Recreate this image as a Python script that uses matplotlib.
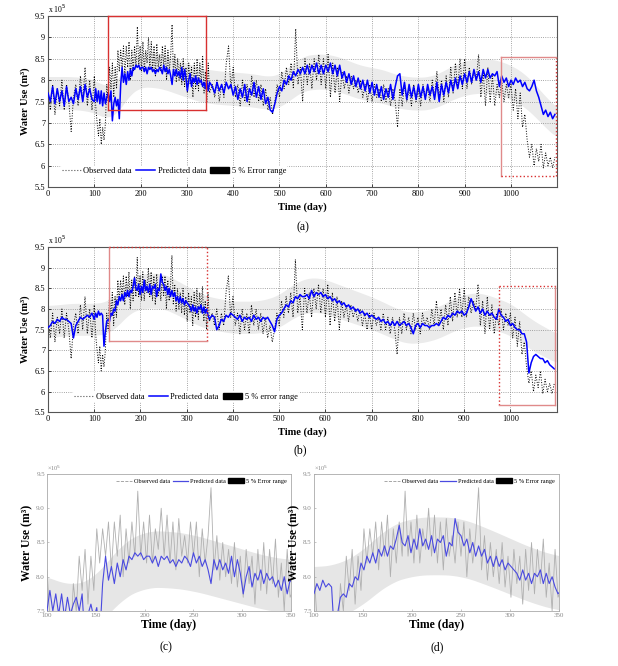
import numpy as np
import matplotlib
matplotlib.use("Agg")
import matplotlib.pyplot as plt
from matplotlib.lines import Line2D
from matplotlib.patches import Patch
from matplotlib.ticker import FuncFormatter

plt.rcParams['font.family'] = ['Liberation Serif', 'DejaVu Serif']

# ---- data (water use in units of 10^5 m3) ----
# sampling: every 5 days before day 100, every 3 days for 100-349, every 5 days after
days = np.concatenate([np.arange(0, 100, 5), np.arange(100, 350, 3), np.arange(355, 1100, 5)])

obs_early = [7.7, 7.3, 7.9, 7.2, 7.8, 7.4, 8.0, 7.3, 7.9, 7.5,
             6.8, 7.6, 7.9, 7.4, 8.1, 7.5, 8.3, 7.4, 8.0, 7.3]
obs_mid = [8.1, 7.4, 7.0, 6.7, 7.1, 6.5, 6.9, 6.6, 7.0, 7.9,
           7.5, 8.3, 7.8, 8.4, 7.6, 8.3, 7.8, 8.7, 8.2, 8.7,
           8.3, 8.8, 8.1, 8.8, 8.3, 8.9, 8.0, 8.7, 8.2, 8.8,
           8.3, 9.25, 8.3, 8.8, 8.2, 8.9, 8.2, 8.7, 8.4, 9.0,
           8.3, 8.9, 8.2, 8.8, 8.1, 8.85, 8.3, 8.6, 8.2, 8.8,
           8.3, 8.8, 8.0, 8.7, 8.2, 8.6, 9.3, 8.1, 8.6, 7.95,
           8.5, 8.0, 8.4, 7.9, 8.5, 7.85, 8.3, 7.7, 8.4, 7.9,
           8.3, 7.6, 8.4, 7.8, 8.5, 7.75, 8.4, 7.9, 8.55, 7.7,
           8.2, 7.5, 8.4, 7.7]
obs_late = [7.9, 7.6, 8.0, 7.5, 7.9, 7.6, 8.4, 8.8, 7.8, 8.3,
            7.6, 7.9, 7.4, 8.0, 7.5, 7.9, 7.4, 8.1, 7.6, 8.0,
            7.5, 7.9, 7.4, 7.8, 7.3, 7.6, 7.2, 7.5, 7.9, 7.6,
            8.2, 7.8, 8.3, 7.9, 8.4, 7.8, 9.2, 7.9, 8.3, 7.5,
            8.5, 7.9, 8.4, 7.8, 8.5, 8.0, 8.6, 7.9, 8.5, 7.8,
            8.6, 7.6, 8.4, 7.7, 8.3, 7.5, 8.2, 7.8, 8.1, 7.7,
            8.1, 7.8, 8.0, 7.7, 8.0, 7.6, 7.9, 7.5, 7.9, 7.5,
            7.9, 7.6, 7.8, 7.5, 7.9, 7.5, 7.8, 7.4, 7.8, 7.5,
            6.9, 7.8, 7.4, 7.9, 7.5, 7.8, 7.4, 7.9, 7.5, 7.8,
            7.4, 7.9, 7.6, 7.8, 7.5, 8.0, 7.6, 8.2, 7.6, 8.0,
            7.5, 8.1, 7.6, 8.3, 7.7, 8.4, 7.8, 8.5, 7.8, 8.5,
            7.8, 8.3, 7.9, 8.2, 8.0, 8.6, 7.6, 8.2, 7.4, 8.3,
            7.5, 8.1, 7.4, 7.9, 7.6, 8.0, 7.5, 7.9, 7.6, 7.9,
            7.3, 7.8, 7.1, 7.7, 6.9, 7.2, 6.6, 6.2, 6.5, 6.0,
            6.4, 6.1, 6.5, 5.95, 6.3, 6.0, 6.2, 5.95, 6.2]

pred_a_early = [7.7, 7.5, 7.85, 7.45, 7.8, 7.5, 7.75, 7.4, 7.85, 7.5,
                7.6, 7.45, 7.8, 7.55, 7.85, 7.5, 7.9, 7.6, 7.8, 7.55]
pred_a_mid = [7.5, 7.8, 7.5, 7.75, 7.45, 7.75, 7.4, 7.7, 7.45, 7.6,
              7.7, 7.5, 7.75, 7.05, 7.45, 7.6, 7.4, 7.55, 7.1, 7.9,
              8.3, 7.95, 8.15, 7.9, 8.2, 8.0, 8.25, 8.1, 8.3, 8.25,
              8.35, 8.3, 8.35, 8.25, 8.3, 8.3, 8.2, 8.3, 8.15, 8.3,
              8.25, 8.3, 8.2, 8.25, 8.15, 8.25, 8.2, 8.3, 8.25, 8.15,
              8.35, 8.2, 8.3, 8.15, 8.25, 8.1, 7.9, 8.25, 8.1, 8.25,
              8.1, 8.2, 8.05, 8.3, 8.0, 8.25, 8.05, 7.75, 8.0, 8.15,
              7.85, 8.05, 7.95, 8.1, 7.9, 8.05, 7.95, 8.0, 7.85, 7.95,
              7.8, 8.0, 7.75, 7.95]
pred_a_late = [7.85, 7.7, 7.95, 7.75, 7.9, 7.7, 7.95, 7.8, 7.9, 7.65,
               7.85, 7.55, 7.8, 7.6, 7.9, 7.5, 7.8, 7.65, 7.95, 7.6,
               7.85, 7.55, 7.8, 7.45, 7.6, 7.3, 7.25, 7.45, 7.7, 7.85,
               7.75, 8.0, 7.9, 8.1, 8.0, 8.2, 8.1, 8.25, 8.15, 8.3,
               8.15, 8.35, 8.15, 8.35, 8.2, 8.4, 8.15, 8.35, 8.15, 8.35,
               8.2, 8.4, 8.15, 8.35, 8.1, 8.35, 8.05, 8.2, 7.95, 8.15,
               7.9, 8.1, 7.85, 8.05, 7.8, 8.0, 7.75, 8.0, 7.7, 7.95,
               7.65, 7.9, 7.6, 7.85, 7.55, 7.8, 7.6, 7.9, 7.55, 7.85,
               8.1, 8.15, 7.65, 7.95, 7.55, 7.9, 7.6, 7.85, 7.55, 7.9,
               7.6, 7.85, 7.55, 7.9, 7.65, 7.85, 7.55, 7.95, 7.5, 7.9,
               7.65, 7.95, 7.7, 8.0, 7.75, 8.05, 7.8, 8.1, 7.9, 8.15,
               7.95, 8.2, 7.95, 8.25, 8.0, 8.2, 7.95, 8.25, 8.05, 8.25,
               8.05, 8.15, 8.1, 8.2, 7.85, 8.1, 7.95, 8.05, 7.85, 8.0,
               7.9, 8.05, 7.95, 8.0, 7.85, 7.95, 7.8, 7.75, 7.85, 8.0,
               7.75, 7.6, 7.4, 7.2, 7.3, 7.15, 7.25, 7.1, 7.2]

pred_b_early = [7.55, 7.6, 7.7, 7.65, 7.75, 7.7, 7.8, 7.75, 7.75, 7.7,
                7.65, 7.3, 7.6, 7.7, 7.8, 7.75, 7.8, 7.85, 7.8, 7.9]
pred_b_mid = [7.75, 7.9, 7.8, 7.95, 7.85, 7.9, 7.85, 7.1, 7.45, 7.7,
              7.75, 7.7, 7.9, 7.85, 8.0, 7.95, 8.2, 8.1, 8.3, 8.2,
              8.35, 8.2, 8.4, 8.3, 8.45, 8.3, 8.45, 8.4, 8.55, 8.75,
              8.5, 8.45, 8.6, 8.35, 8.55, 8.4, 8.7, 8.45, 8.55, 8.4,
              8.6, 8.35, 8.55, 8.5, 8.6, 8.3, 8.5, 8.45, 8.85, 8.65,
              8.6, 8.45, 8.55, 8.35, 8.5, 8.3, 8.45, 8.3, 8.4, 8.2,
              8.3, 8.15, 8.3, 8.15, 8.25, 8.1, 8.2, 8.15, 8.1, 8.05,
              7.95, 8.1, 7.95, 8.05, 7.9, 8.05, 8.0, 8.1, 7.9, 8.05,
              7.9, 8.0, 7.85, 7.75]
pred_b_late = [7.85, 7.8, 7.5, 7.6, 7.75, 7.7, 7.85, 7.8, 7.9, 7.85,
               7.8, 7.75, 7.85, 7.7, 7.8, 7.75, 7.8, 7.7, 7.85, 7.75,
               7.8, 7.7, 7.8, 7.75, 7.8, 7.7, 7.6, 7.45, 7.75, 7.85,
               7.9, 8.0, 8.1, 8.05, 8.2, 8.15, 8.3, 8.25, 8.35, 8.3,
               8.3, 8.35, 8.25, 8.45, 8.3, 8.4, 8.35, 8.4, 8.3, 8.35,
               8.25, 8.3, 8.2, 8.25, 8.15, 8.2, 8.1, 8.15, 8.05, 8.1,
               8.0, 8.05, 7.95, 8.0, 7.9, 7.95, 7.85, 7.9, 7.8, 7.85,
               7.8, 7.75, 7.8, 7.7, 7.75, 7.65, 7.7, 7.6, 7.7, 7.6,
               7.7, 7.6, 7.65, 7.7, 7.6, 7.65, 7.55, 7.4, 7.6, 7.65,
               7.55, 7.65, 7.6, 7.6, 7.55, 7.6, 7.6, 7.65, 7.6, 7.7,
               7.8, 7.75, 7.85, 7.8, 7.9, 7.85, 7.95, 7.9, 7.95, 7.85,
               7.9, 8.05, 8.25, 8.1, 7.95, 8.05, 7.9, 8.0, 7.85, 7.95,
               7.85, 7.9, 7.8, 7.75, 8.0, 7.85, 7.8, 7.7, 7.75, 7.6,
               7.65, 7.55, 7.5, 7.5, 7.4, 7.4, 7.2, 6.45, 6.7, 6.85,
               6.9, 6.85, 6.8, 6.8, 6.7, 6.75, 6.65, 6.6, 6.55]

observed = np.array(obs_early + obs_mid + obs_late)
pred_a = np.array(pred_a_early + pred_a_mid + pred_a_late)
pred_b = np.array(pred_b_early + pred_b_mid + pred_b_late)

# centre of the 5 % error band, read every 25 days
band_days = np.arange(0, 1101, 25)
band_a = [7.7, 7.7, 7.7, 7.68, 7.62, 7.48, 7.6, 8.05, 8.25, 8.25, 8.2, 8.1, 8.0, 7.9, 7.85,
          7.82, 7.8, 7.78, 7.75, 7.7, 7.75, 7.95, 8.15, 8.2, 8.2, 8.15, 8.05, 7.95, 7.9, 7.85,
          7.75, 7.7, 7.68, 7.7, 7.8, 7.95, 8.05, 8.1, 8.1, 8.05, 7.95, 7.8, 7.55, 7.25, 7.0]
band_b = [7.7, 7.72, 7.75, 7.75, 7.75, 7.78, 7.97, 8.3, 8.43, 8.45, 8.43, 8.3, 8.15, 8.0, 7.9,
          7.85, 7.8, 7.8, 7.8, 7.85, 7.95, 8.15, 8.3, 8.35, 8.3, 8.2, 8.1, 8.0, 7.9, 7.78,
          7.65, 7.55, 7.55, 7.6, 7.7, 7.85, 7.95, 8.0, 7.95, 7.85, 7.75, 7.55, 7.35, 7.2, 7.05]
err = 0.05

# highlighted periods (day range, value range)
box_a1 = (130, 342, 7.3, 9.5)
box_a2 = (978, 1098, 5.77, 8.55)
box_b1 = (132, 344, 7.23, 9.5)
box_b2 = (976, 1097, 5.68, 8.55)


def smooth_band(center):
    fine = np.arange(0, 1101)
    c = np.interp(fine, band_days, center)
    k = 31
    pad = np.pad(c, k // 2, mode='edge')
    c = np.convolve(pad, np.ones(k) / k, mode='valid')
    return fine, c


def draw_box(ax, box, styles):
    x0, x1, y0, y1 = box
    edges = {'left': ([x0, x0], [y0, y1]), 'right': ([x1, x1], [y0, y1]),
             'top': ([x0, x1], [y1, y1]), 'bottom': ([x0, x1], [y0, y0])}
    for name, (xs, ys) in edges.items():
        ls, col = styles[name]
        ax.plot(xs, ys, ls=ls, color=col, lw=1.0, clip_on=False, zorder=5)


def full_panel(ax, pred, band, err_label, legend_x, boxes):
    fine, c = smooth_band(band)
    ax.fill_between(fine, c * (1 - err), c * (1 + err), color='#ebebeb', lw=0, zorder=1)
    ax.plot(days, observed, color='black', ls=':', lw=0.7, zorder=2)
    ax.plot(days, pred, color='#0000ff', lw=1.1, zorder=3)
    ax.set_xlim(0, 1100)
    ax.set_ylim(5.5, 9.5)
    ax.set_xticks(np.arange(0, 1001, 100))
    ax.set_yticks(np.arange(5.5, 9.51, 0.5))
    ax.yaxis.set_major_formatter(FuncFormatter(lambda v, p: '%g' % v))
    ax.grid(True, ls=':', color='#888888', lw=0.6)
    ax.tick_params(labelsize=6, direction='in', length=2, width=0.5, pad=2)
    for s in ax.spines.values():
        s.set_color('#555555')
        s.set_linewidth(0.8)
    ax.set_xlabel('Time (day)', fontsize=7.5, fontweight='bold', labelpad=3)
    ax.set_ylabel('Water Use (m³)', fontsize=7.5, fontweight='bold', labelpad=3)
    ax.text(0.0, 1.005, 'x 10$^5$', transform=ax.transAxes, fontsize=5.5, va='bottom')
    handles = [Line2D([], [], color='#555555', ls=':', lw=0.8),
               Line2D([], [], color='#0000ff', lw=1.1),
               Patch(facecolor='black', edgecolor='black')]
    leg = ax.legend(handles, ['Observed data', 'Predicted data', err_label],
                    loc='lower left', bbox_to_anchor=(legend_x, 0.05), ncol=3,
                    fontsize=6, frameon=True, framealpha=1, edgecolor='none',
                    handlelength=2.3, handletextpad=0.3, columnspacing=0.5,
                    borderpad=0.2, borderaxespad=0.2)
    leg.set_zorder(6)
    for box, styles in boxes:
        draw_box(ax, box, styles)


def zoom_panel(ax, pred, band):
    fine, c = smooth_band(band)
    ax.fill_between(fine, c * (1 - err), c * (1 + err), color='#e6e6e6', lw=0, zorder=1)
    ax.plot(days, observed, color='#b0b0b0', lw=0.6, zorder=2)
    ax.plot(days, pred, color='#4a4ae0', lw=0.8, zorder=3)
    ax.set_xlim(100, 350)
    ax.set_ylim(7.5, 9.5)
    ax.set_xticks(np.arange(100, 351, 50))
    ax.set_yticks(np.arange(7.5, 9.51, 0.5))
    ax.yaxis.set_major_formatter(FuncFormatter(lambda v, p: '%.1f' % v))
    ax.tick_params(labelsize=5, colors='#999999', labelcolor='#888888',
                   direction='in', length=1.5, width=0.4, pad=1.5)
    for s in ax.spines.values():
        s.set_color('#aaaaaa')
        s.set_linewidth(0.6)
    ax.set_xlabel('Time (day)', fontsize=8.5, fontweight='bold', labelpad=1)
    ax.set_ylabel('Water Use (m³)', fontsize=8.5, fontweight='bold', labelpad=2)
    ax.text(0.0, 1.005, '×10$^5$', transform=ax.transAxes, fontsize=4.5,
            color='#888888', va='bottom')
    handles = [Line2D([], [], color='#999999', ls='--', lw=0.6),
               Line2D([], [], color='#4a4ae0', lw=0.9),
               Patch(facecolor='black', edgecolor='black')]
    ax.legend(handles, ['Observed data', 'Predicted data', '5 % Error range'],
              loc='upper right', bbox_to_anchor=(1.0, 1.0), ncol=3, fontsize=4.5,
              frameon=False, handlelength=2.5, handletextpad=0.3,
              columnspacing=0.4, borderaxespad=0.3)


fig = plt.figure(figsize=(6.18, 6.66), dpi=100)
ax_a = fig.add_axes([0.0777, 0.719, 0.824, 0.257])
ax_b = fig.add_axes([0.0777, 0.381, 0.823, 0.248])
ax_c = fig.add_axes([0.076, 0.0826, 0.395, 0.2057])
ax_d = fig.add_axes([0.508, 0.0826, 0.3965, 0.2057])

red = '#d83030'
pink = '#e08a8a'
full_panel(ax_a, pred_a, band_a, '5 % Error range', 0.02, [
    (box_a1, {'left': ('-', red), 'top': ('-', red), 'right': ('-', red), 'bottom': ('-', red)}),
    (box_a2, {'left': ('-', pink), 'top': ('-', pink), 'right': (':', red), 'bottom': (':', red)}),
])
full_panel(ax_b, pred_b, band_b, '5 % error range', 0.045, [
    (box_b1, {'left': ('-', pink), 'top': (':', red), 'right': (':', red), 'bottom': ('-', pink)}),
    (box_b2, {'left': (':', red), 'top': (':', red), 'right': ('-', pink), 'bottom': ('-', pink)}),
])
zoom_panel(ax_c, pred_a, band_a)
zoom_panel(ax_d, pred_b, band_b)

fig.text(0.49, 1 - 227 / 666, '(a)', fontsize=8.5, ha='center', va='center')
fig.text(0.486, 1 - 450 / 666, '(b)', fontsize=8.5, ha='center', va='center')
fig.text(0.268, 1 - 647 / 666, '(c)', fontsize=8.5, ha='center', va='center')
fig.text(0.708, 1 - 647 / 666, '(d)', fontsize=8.5, ha='center', va='center')

fig.savefig('out.png', dpi=100)
